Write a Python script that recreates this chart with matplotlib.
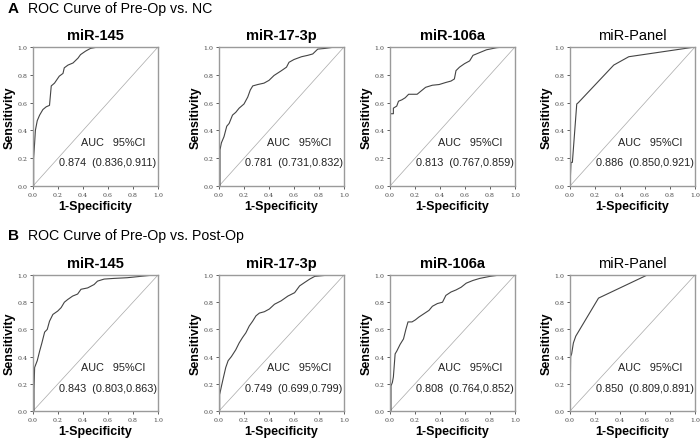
import numpy as np
import matplotlib.pyplot as plt

# ROC points (1-specificity, sensitivity)
# row A: Pre-Op vs. NC
a145_x = [0, 0.005, 0.005, 0.013, 0.019, 0.034, 0.053, 0.079, 0.106, 0.132, 0.146, 0.172, 0.21, 0.24,
          0.25, 0.28, 0.32, 0.36, 0.38, 0.42, 0.46, 0.52, 0.67, 1.0]
a145_y = [0, 0.0, 0.2, 0.31, 0.4, 0.47, 0.51, 0.55, 0.57, 0.58, 0.72, 0.74, 0.79, 0.81,
          0.85, 0.87, 0.885, 0.92, 0.945, 0.97, 0.99, 1.0, 1.0, 1.0]
a173_x = [0, 0.008, 0.008, 0.019, 0.04, 0.062, 0.081, 0.108, 0.134, 0.161, 0.20, 0.23, 0.25, 0.27,
          0.31, 0.36, 0.40, 0.44, 0.50, 0.54, 0.56, 0.60, 0.66, 0.71, 0.75, 0.79, 0.85, 0.93, 1.0]
a173_y = [0, 0.0, 0.26, 0.31, 0.355, 0.43, 0.45, 0.51, 0.53, 0.56, 0.59, 0.64, 0.69, 0.72,
          0.73, 0.74, 0.76, 0.795, 0.83, 0.855, 0.89, 0.91, 0.93, 0.94, 0.95, 0.985, 0.99, 1.0, 1.0]
a106_x = [0, 0, 0.027, 0.027, 0.054, 0.068, 0.095, 0.122, 0.149, 0.217, 0.244, 0.285, 0.339, 0.393,
          0.447, 0.488, 0.515, 0.528, 0.556, 0.596, 0.637, 0.664, 0.718, 0.772, 0.854, 0.908, 1.0]
a106_y = [0, 0.52, 0.52, 0.56, 0.575, 0.61, 0.62, 0.635, 0.66, 0.66, 0.68, 0.71, 0.725, 0.73,
          0.745, 0.755, 0.77, 0.83, 0.855, 0.88, 0.90, 0.94, 0.96, 0.98, 0.995, 1.0, 1.0]
apan_x = [0, 0.008, 0.019, 0.054, 0.067, 0.35, 0.47, 1.0]
apan_y = [0, 0.17, 0.17, 0.59, 0.60, 0.87, 0.93, 1.0]

# row B: Pre-Op vs. Post-Op
b145_x = [0, 0.008, 0.008, 0.013, 0.034, 0.053, 0.071, 0.093, 0.114, 0.132, 0.159, 0.198, 0.225, 0.251,
          0.278, 0.317, 0.357, 0.384, 0.437, 0.489, 0.516, 0.569, 0.648, 0.754, 0.86, 0.966, 1.0]
b145_y = [0, 0.0, 0.16, 0.32, 0.37, 0.44, 0.50, 0.58, 0.60, 0.66, 0.71, 0.735, 0.76, 0.80,
          0.82, 0.845, 0.86, 0.895, 0.905, 0.93, 0.955, 0.97, 0.975, 0.98, 0.99, 1.0, 1.0]
b173_x = [0, 0.005, 0.005, 0.019, 0.035, 0.054, 0.073, 0.099, 0.134, 0.161, 0.188, 0.215, 0.242, 0.269,
          0.296, 0.323, 0.363, 0.403, 0.444, 0.497, 0.551, 0.605, 0.645, 0.685, 0.726, 0.766, 0.847,
          0.927, 1.0]
b173_y = [0, 0.0, 0.12, 0.18, 0.245, 0.32, 0.37, 0.40, 0.45, 0.50, 0.54, 0.575, 0.625, 0.66,
          0.70, 0.72, 0.73, 0.75, 0.785, 0.81, 0.845, 0.87, 0.92, 0.945, 0.97, 0.99, 0.997,
          1.0, 1.0]
b106_x = [0, 0.008, 0.008, 0.019, 0.027, 0.041, 0.054, 0.081, 0.108, 0.127, 0.144, 0.176, 0.203, 0.23,
          0.271, 0.312, 0.339, 0.379, 0.42, 0.447, 0.488, 0.528, 0.569, 0.61, 0.664, 0.718, 0.80,
          0.88, 1.0]
b106_y = [0, 0.0, 0.185, 0.21, 0.25, 0.42, 0.44, 0.49, 0.53, 0.60, 0.655, 0.655, 0.67, 0.69,
          0.715, 0.74, 0.77, 0.79, 0.80, 0.85, 0.875, 0.89, 0.91, 0.94, 0.96, 0.975, 0.99,
          1.0, 1.0]
bpan_x = [0, 0.005, 0.013, 0.027, 0.046, 0.228, 0.618, 1.0]
bpan_y = [0, 0.40, 0.42, 0.50, 0.55, 0.83, 1.0, 1.0]

names = ["miR-145", "miR-17-3p", "miR-106a", "miR-Panel"]
auc_a = ["0.874  (0.836,0.911)", "0.781  (0.731,0.832)", "0.813  (0.767,0.859)", "0.886  (0.850,0.921)"]
auc_b = ["0.843  (0.803,0.863)", "0.749  (0.699,0.799)", "0.808  (0.764,0.852)", "0.850  (0.809,0.891)"]
curves_a = [(a145_x, a145_y), (a173_x, a173_y), (a106_x, a106_y), (apan_x, apan_y)]
curves_b = [(b145_x, b145_y), (b173_x, b173_y), (b106_x, b106_y), (bpan_x, bpan_y)]

W, H = 700, 439
plt.rcParams['font.family'] = ['Liberation Sans', 'DejaVu Sans']
fig = plt.figure(figsize=(7, 4.39), dpi=100)

lefts = [33, 219, 390, 570]
rows = [(48, 187, "A", "ROC Curve of Pre-Op vs. NC", curves_a, auc_a, 9),
        (276, 412, "B", "ROC Curve of Pre-Op vs. Post-Op", curves_b, auc_b, 236)]

for top, bot, letter, head, curves, aucs, ty in rows:
    fig.text(8 / W, 1 - ty / H, letter, fontsize=11, fontweight='bold', va='center')
    fig.text(28 / W, 1 - ty / H, head, fontsize=10.2, va='center')
    for i, left in enumerate(lefts):
        ax = fig.add_axes([left / W, 1 - bot / H, 125 / W, (bot - top) / H])
        cx, cy = curves[i]
        ax.plot([0, 1], [0, 1], color='#a8a8a8', lw=0.5)
        ax.plot(cx, cy, color='#444444', lw=0.8)
        ax.set_xlim(0, 1)
        ax.set_ylim(0, 1)
        ticks = np.arange(0, 1.01, 0.2)
        ax.set_xticks(ticks)
        ax.set_yticks(ticks)
        ax.set_xticklabels(["%.1f" % v for v in ticks])
        ax.set_yticklabels(["%.1f" % v for v in ticks])
        ax.tick_params(length=2.5, width=0.6, pad=1.5, labelsize=4.5, colors='#444444')
        for lab in ax.get_xticklabels() + ax.get_yticklabels():
            lab.set_family('DejaVu Serif')
        for s in ax.spines.values():
            s.set_color('#9a9a9a')
            s.set_linewidth(1.0)
        if names[i] == "miR-Panel":
            ax.set_title(names[i], fontsize=10.5, family=['Liberation Sans Narrow', 'Liberation Sans'],
                         pad=6)
        else:
            ax.set_title(names[i], fontsize=10.5, fontweight='bold', pad=6)
        ax.set_ylabel("Sensitivity", fontsize=9, fontweight='bold')
        ax.set_xlabel("1-Specificity", fontsize=9, fontweight='bold')
        ax.yaxis.set_label_coords(-0.135, 0.5)
        ax.xaxis.set_label_coords(0.5, -0.1)
        ax.text(0.64, 0.32, "AUC   95%CI", transform=ax.transAxes, fontsize=7.8,
                ha='center', va='center', color='#222222')
        ax.text(0.60, 0.17, aucs[i], transform=ax.transAxes, fontsize=7.8,
                ha='center', va='center', color='#222222')

fig.savefig("out.png", dpi=100)
